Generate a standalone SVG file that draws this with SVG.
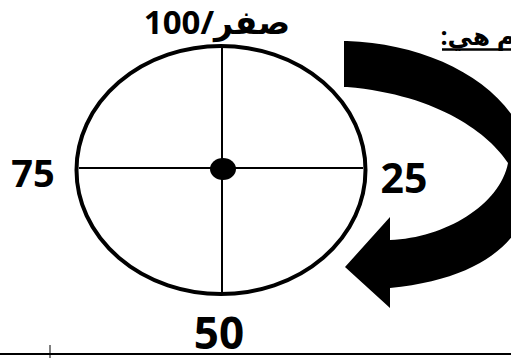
<svg xmlns="http://www.w3.org/2000/svg" width="511" height="358" viewBox="0 0 511 358">
<style>
.lbl{font-family:"Open Sans","DejaVu Sans",sans-serif;font-weight:bold;fill:#000;}
.thin{stroke:#000;stroke-width:2;fill:none;}
</style>
<rect width="511" height="358" fill="#fff"/>
<g id="dial">
<ellipse cx="221" cy="170" rx="144.5" ry="124" fill="none" stroke="#000" stroke-width="4"/>
</g>
<g id="connectors">
<line class="thin" x1="79" y1="168" x2="363" y2="168"/>
<line class="thin" x1="222" y1="48" x2="222" y2="292"/>
</g>
<g id="center">
<ellipse cx="223" cy="169" rx="13" ry="11" fill="#000"/>
</g>
<g id="arrow">
<path d="M347,41 C432,44 512,85 528,150 C544,215 510,276 390,288 L390,308 L345,267 L390,217 L390,240 C445,238 500,205 508,163 C490,135 440,95 347,87 L344,87 L344,41 Z" fill="#000"/>
</g>
<g id="label-top"><text class="lbl" x="217" y="34" font-size="33" text-anchor="middle" direction="rtl" unicode-bidi="embed">صفر/100</text></g>
<g id="label-left"><text class="lbl" x="33" y="187" font-size="38" text-anchor="middle">75</text></g>
<g id="label-right"><text class="lbl" x="404" y="193" font-size="41" text-anchor="middle">25</text></g>
<g id="label-bottom"><text class="lbl" x="219" y="349" font-size="44" text-anchor="middle">50</text></g>
<g id="note"><text class="lbl" x="515" y="45" font-size="25" text-anchor="start" direction="rtl" unicode-bidi="embed">م هي:</text>
<line x1="442" y1="49.5" x2="511" y2="49.5" stroke="#000" stroke-width="2.5"/></g>
<g id="baseline">
<line x1="0" y1="354" x2="511" y2="354" stroke="#000" stroke-width="2"/>
<line x1="50" y1="345" x2="50" y2="358" stroke="#000" stroke-width="1"/>
</g>
</svg>
